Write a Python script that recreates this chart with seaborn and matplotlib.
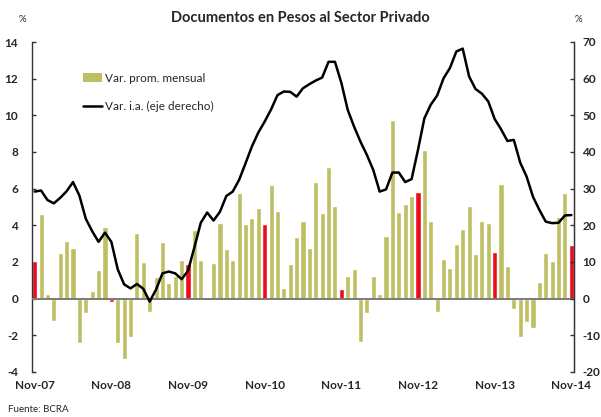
import matplotlib
matplotlib.use("Agg")
import matplotlib.pyplot as plt
import numpy as np
import pandas as pd
import seaborn as sns
from matplotlib.lines import Line2D
from matplotlib.patches import Patch

TITLE = "Documentos en Pesos al Sector Privado"
TICK_LABELS = ["Nov-07", "Nov-08", "Nov-09", "Nov-10", "Nov-11", "Nov-12", "Nov-13", "Nov-14"]

# variación promedio mensual (%), nov-07 .. nov-14
VAR_MENSUAL = [
    2.07, 4.64, 0.25, -1.2, 2.5, 3.16, 2.76, -2.4, -0.76, 0.42, 1.58, 3.9,
    -0.2, -2.4, -3.3, -2.1, 3.6, 2.02, -0.7, 1.2, 3.1, 0.87, 1.24, 2.13,
    1.89, 3.75, 2.13, 0.1, 1.96, 4.15, 2.73, 2.13, 5.76, 4.09, 4.4, 4.95,
    4.09, 6.2, 4.78, 0.6, 1.89, 3.36, 4.24, 2.76, 6.36, 4.69, 7.18, 5.05,
    0.55, 1.24, 1.62, -2.35, -0.76, 1.24, 0.25, 3.42, 9.75, 4.73, 5.16, 5.6,
    5.82, 8.11, 4.24, -0.71, 2.16, 1.67, 3.0, 3.8, 5.05, 2.44, 4.24, 4.15,
    2.56, 6.25, 1.78, -0.55, -2.07, -1.25, -1.58, 0.91, 2.51, 2.07, 4.44, 5.76,
    2.93,
]

# variación interanual (%), eje derecho
VAR_IA = [
    29.2, 29.5, 26.9, 26.0, 27.5, 29.3, 31.8, 28.1, 21.8, 18.4, 15.5, 18.0,
    15.5, 8.0, 3.9, 2.8, 4.0, 2.7, -0.8, 2.5, 6.9, 7.4, 6.9, 5.3,
    7.6, 14.0, 20.7, 23.5, 21.3, 23.7, 28.0, 29.2, 32.4, 36.9, 41.5, 45.3,
    48.3, 51.6, 55.5, 56.5, 56.4, 55.1, 57.4, 58.5, 59.5, 60.3, 64.6, 64.6,
    58.9, 51.5, 46.9, 42.8, 39.2, 35.1, 29.2, 29.8, 34.4, 34.4, 31.8, 32.6,
    40.6, 49.2, 52.9, 55.4, 60.1, 62.9, 67.4, 68.2, 60.6, 57.2, 55.9, 53.8,
    49.0, 46.2, 43.0, 43.3, 37.1, 33.3, 27.8, 24.2, 21.0, 20.6, 20.7, 22.7,
    22.8,
]

OLIVE = "#bdbf62"
RED = "#ee0a1e"

df = pd.DataFrame({
    "pos": np.arange(len(VAR_MENSUAL)),
    "var_mensual": VAR_MENSUAL,
    "var_ia": VAR_IA,
})
df["tipo"] = np.where(df["pos"] % 12 == 0, "nov", "resto")

sns.set_style("white")
plt.rcParams["font.family"] = ["Lato", "DejaVu Sans"]
plt.rcParams["axes.unicode_minus"] = False

fig = plt.figure(figsize=(6.01, 4.17), dpi=100)
ax = fig.add_axes([32 / 601, 1 - 372 / 417, 542 / 601, 330 / 417])

sns.barplot(
    data=df, x="pos", y="var_mensual", hue="tipo",
    palette={"nov": RED, "resto": OLIVE}, dodge=False, width=0.8,
    saturation=1, legend=False, ax=ax,
)
ax.axhline(0, color="#7a7a7a", lw=1.4, zorder=3)

ax.set_xlim(-0.42, len(VAR_MENSUAL) - 0.58)
ax.set_ylim(-4, 14)
ax.set_yticks(np.arange(-4, 15, 2))
ax.set_xticks(np.arange(0, len(VAR_MENSUAL), 12))
ax.set_xticklabels(TICK_LABELS, fontweight="bold", fontsize=8.5)
ax.set_xlabel("")
ax.set_ylabel("")
ax.tick_params(axis="x", length=0, pad=6)
ax.tick_params(axis="y", direction="in", length=3, width=1, color="#333333",
               labelsize=8.5, pad=10)
for lab in ax.get_yticklabels():
    lab.set_fontweight("bold")
for side in ["top", "bottom"]:
    ax.spines[side].set_visible(False)
ax.spines["left"].set_color("#333333")
ax.spines["left"].set_linewidth(1)

ax2 = ax.twinx()
sns.lineplot(data=df, x="pos", y="var_ia", color="black", lw=1.8, ax=ax2)
ax2.set_ylim(-20, 70)
ax2.set_yticks(np.arange(-20, 71, 10))
ax2.set_ylabel("")
ax2.tick_params(axis="y", direction="in", length=3, width=1, color="#333333",
                labelsize=8.5, pad=6)
for lab in ax2.get_yticklabels():
    lab.set_fontweight("bold")
for side in ["top", "bottom", "left"]:
    ax2.spines[side].set_visible(False)
ax2.spines["right"].set_color("#333333")
ax2.spines["right"].set_linewidth(1)

handles = [
    Patch(facecolor=OLIVE, edgecolor="none", label="Var. prom. mensual"),
    Line2D([], [], color="black", lw=1.8, label="Var. i.a. (eje derecho)"),
]
ax2.legend(handles=handles, loc="upper left", bbox_to_anchor=(72 / 601, 1 - 62 / 417),
           bbox_transform=fig.transFigure, frameon=False, fontsize=8.5,
           labelspacing=1.5, handlelength=1.6, handletextpad=0.3)

fig.text(0.5, 1 - 18 / 417, TITLE, ha="center", va="center", fontsize=10.5, fontweight="bold")
fig.text(22 / 601, 1 - 20 / 417, "%", ha="center", va="center", fontsize=7)
fig.text(578 / 601, 1 - 20 / 417, "%", ha="center", va="center", fontsize=7)
fig.text(8 / 601, 1 - 409 / 417, "Fuente: BCRA", ha="left", va="center", fontsize=7)

fig.savefig("out.png", dpi=100)
